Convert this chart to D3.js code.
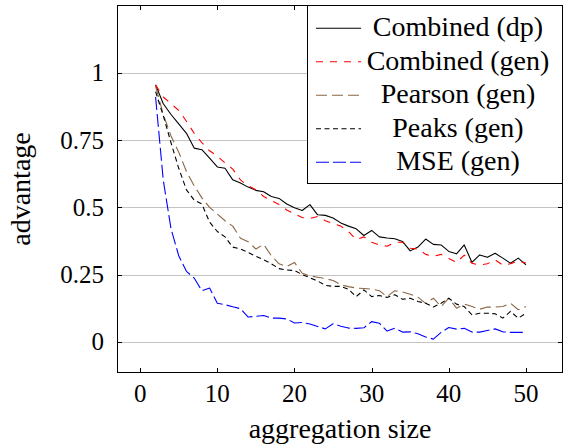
<!DOCTYPE html>
<html>
<head>
<meta charset="utf-8">
<script src="https://cdn.jsdelivr.net/npm/d3@7/dist/d3.min.js"></script>
<style>
  html, body { margin: 0; padding: 0; background: #fff; }
  svg { display: block; }
</style>
</head>
<body>
<svg id="chart" width="567" height="445" font-family="'Liberation Serif', 'DejaVu Serif', serif"></svg>
<script>
// ---- data ----
const aggSize = [2,3,4,5,6,7,8,9,10,11,12,13,14,15,16,17,18,19,20,21,22,23,24,25,26,
  27,28,29,30,31,32,33,34,35,36,37,38,39,40,41,42,43,44,45,46,47,48,49,50];

const combinedDp = [0.955,0.885,0.845,0.81,0.775,0.72,0.714,0.683,0.65,0.645,0.602,0.59,0.575,
  0.563,0.558,0.54,0.533,0.512,0.498,0.488,0.51,0.472,0.47,0.46,0.442,0.43,0.42,0.395,0.414,
  0.39,0.386,0.383,0.373,0.338,0.352,0.382,0.362,0.36,0.336,0.327,0.36,0.295,0.323,0.314,
  0.329,0.311,0.292,0.311,0.286];

const combinedGen = [0.955,0.91,0.885,0.86,0.82,0.775,0.74,0.71,0.69,0.665,0.642,0.602,0.58,
  0.565,0.54,0.525,0.51,0.49,0.475,0.462,0.458,0.466,0.45,0.44,0.43,0.41,0.38,0.39,0.37,
  0.36,0.355,0.37,0.37,0.348,0.345,0.325,0.318,0.325,0.31,0.295,0.322,0.292,0.285,0.29,
  0.305,0.285,0.29,0.3,0.293];

const pearsonGen = [0.95,0.845,0.765,0.705,0.633,0.58,0.535,0.5,0.475,0.45,0.43,0.385,0.372,
  0.345,0.362,0.32,0.29,0.28,0.295,0.255,0.245,0.24,0.235,0.228,0.212,0.205,0.2,0.198,0.196,
  0.19,0.168,0.19,0.185,0.177,0.166,0.143,0.162,0.131,0.162,0.125,0.14,0.131,0.121,0.129,
  0.129,0.131,0.143,0.119,0.131];

const peaksGen = [0.93,0.84,0.74,0.645,0.565,0.527,0.512,0.445,0.41,0.39,0.352,0.345,0.332,
  0.318,0.305,0.29,0.272,0.267,0.265,0.25,0.238,0.226,0.21,0.206,0.206,0.195,0.168,0.193,
  0.168,0.172,0.165,0.175,0.158,0.162,0.15,0.143,0.129,0.143,0.162,0.14,0.131,0.1,0.106,
  0.106,0.104,0.088,0.113,0.088,0.106];

const mseGen = [0.91,0.6,0.42,0.32,0.262,0.237,0.19,0.2,0.143,0.138,0.13,0.123,0.092,0.095,
  0.098,0.088,0.088,0.085,0.07,0.072,0.066,0.057,0.048,0.067,0.058,0.051,0.05,0.052,0.075,
  0.069,0.04,0.05,0.036,0.037,0.03,0.018,0.01,0.035,0.053,0.047,0.05,0.036,0.036,0.042,
  0.048,0.037,0.035,0.035,0.035];

const seriesNames = ["Combined (dp)", "Combined (gen)", "Pearson (gen)", "Peaks (gen)", "MSE (gen)"];
const xTicks = [0, 10, 20, 30, 40, 50];
const yTicks = [0, 0.25, 0.5, 0.75, 1];
const yTickLabels = ["0", "0.25", "0.5", "0.75", "1"];
const xLabel = "aggregation size";
const yLabel = "advantage";

// ---- styles ----
const seriesValues = [combinedDp, combinedGen, pearsonGen, peaksGen, mseGen];
const seriesStyle = [
  { color: "#000000", dash: null },
  { color: "#ff0000", dash: "7,7" },
  { color: "#8a6642", dash: "11,5" },
  { color: "#000000", dash: "5,3.5" },
  { color: "#0000ff", dash: "13,4" }
];

const frame = { left: 117, right: 563, top: 5, bottom: 373 };
const serif = "'Liberation Serif', 'DejaVu Serif', serif";

const svg = d3.select("#chart");
const x = d3.scaleLinear().domain([-3.0, 54.8]).range([frame.left, frame.right]);
const y = d3.scaleLinear().domain([-0.116, 1.252]).range([frame.bottom, frame.top]);

// grid
svg.append("g").selectAll("line").data(yTicks).join("line")
  .attr("x1", frame.left).attr("x2", frame.right)
  .attr("y1", d => Math.round(y(d)) + 0.5).attr("y2", d => Math.round(y(d)) + 0.5)
  .attr("stroke", "#c4c4c4").attr("stroke-width", 1);

// lines
const line = d3.line().x((d, i) => x(aggSize[i])).y(d => y(d));
seriesValues.forEach((vals, k) => {
  svg.append("path").datum(vals)
    .attr("d", line)
    .attr("fill", "none")
    .attr("stroke", seriesStyle[k].color)
    .attr("stroke-width", 1.1)
    .attr("stroke-dasharray", seriesStyle[k].dash)
    .attr("stroke-linejoin", "round");
});

// frame
svg.append("rect")
  .attr("x", frame.left + 0.5).attr("y", frame.top + 0.5)
  .attr("width", frame.right - frame.left - 1).attr("height", frame.bottom - frame.top - 1)
  .attr("fill", "none").attr("stroke", "#000").attr("stroke-width", 1);

// ticks (inward, both sides)
const tl = 5;
const tg = svg.append("g").attr("stroke", "#000").attr("stroke-width", 1);
xTicks.forEach(t => {
  const px = Math.round(x(t)) + 0.5;
  tg.append("line").attr("x1", px).attr("x2", px).attr("y1", frame.bottom).attr("y2", frame.bottom - tl);
  tg.append("line").attr("x1", px).attr("x2", px).attr("y1", frame.top).attr("y2", frame.top + tl);
});
yTicks.forEach(t => {
  const py = Math.round(y(t)) + 0.5;
  tg.append("line").attr("x1", frame.left).attr("x2", frame.left + tl).attr("y1", py).attr("y2", py);
  tg.append("line").attr("x1", frame.right).attr("x2", frame.right - tl).attr("y1", py).attr("y2", py);
});

// tick labels
svg.append("g").selectAll("text").data(xTicks).join("text")
  .attr("x", d => x(d)).attr("y", 402)
  .attr("text-anchor", "middle").attr("font-size", 25).attr("font-family", serif)
  .text(d => d);
svg.append("g").selectAll("text").data(yTicks).join("text")
  .attr("x", 104).attr("y", d => y(d) + 8.5)
  .attr("text-anchor", "end").attr("font-size", 25).attr("font-family", serif)
  .text((d, i) => yTickLabels[i]);

// axis titles
svg.append("text")
  .attr("x", (frame.left + frame.right) / 2).attr("y", 438)
  .attr("text-anchor", "middle").attr("font-size", 28).attr("font-family", serif)
  .text(xLabel);
svg.append("text")
  .attr("transform", `translate(30,${(frame.top + frame.bottom) / 2}) rotate(-90)`)
  .attr("text-anchor", "middle").attr("font-size", 28).attr("font-family", serif)
  .text(yLabel);

// legend
const lg = { left: 307, right: 563, top: 5, bottom: 183 };
svg.append("rect")
  .attr("x", lg.left + 0.5).attr("y", lg.top + 0.5)
  .attr("width", lg.right - lg.left - 1).attr("height", lg.bottom - lg.top)
  .attr("fill", "#fff").attr("stroke", "#000").attr("stroke-width", 1);
const rowY = d3.scaleLinear().domain([0, 4]).range([28.3, 162.3]);
seriesNames.forEach((name, k) => {
  const cy = rowY(k);
  svg.append("line")
    .attr("x1", 316).attr("x2", 361).attr("y1", cy).attr("y2", cy)
    .attr("stroke", seriesStyle[k].color).attr("stroke-width", 1.1)
    .attr("stroke-dasharray", seriesStyle[k].dash);
  svg.append("text")
    .attr("x", 458).attr("y", cy + 8)
    .attr("text-anchor", "middle").attr("font-size", 28).attr("font-family", serif)
    .text(name);
});
</script>
</body>
</html>
